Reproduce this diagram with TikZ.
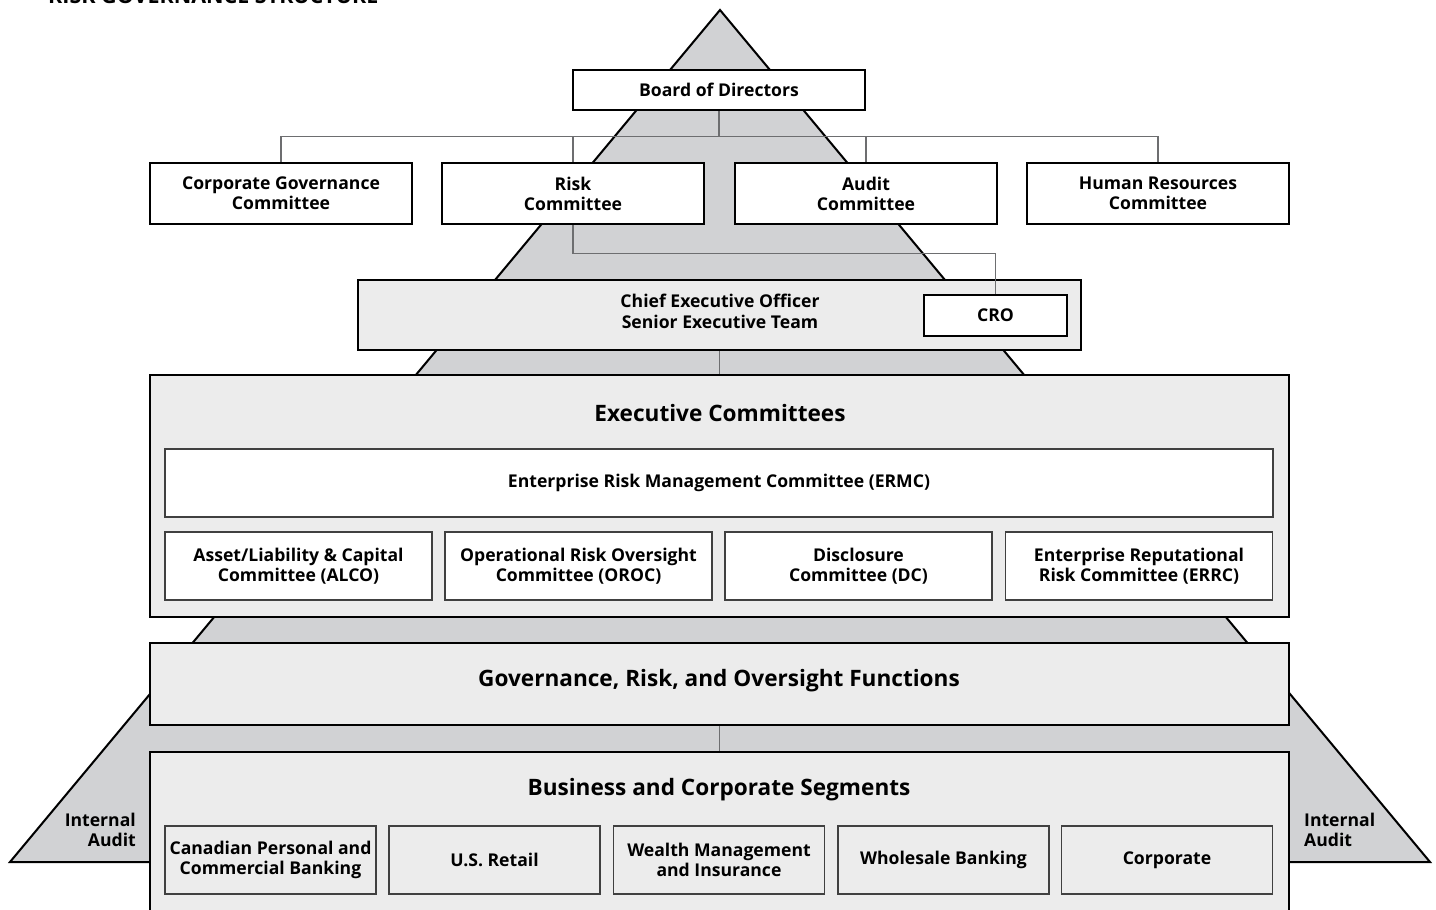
\documentclass[tikz,border=0pt]{standalone}
\usepackage{fontspec}
\setmainfont{Open Sans}
\usetikzlibrary{calc}

\definecolor{pyramidgray}{HTML}{D1D2D4}
\definecolor{panelgray}{HTML}{ECECEC}
\definecolor{linkgray}{HTML}{6D6E70}

\tikzset{
  boardbox/.style={draw, line width=2.6pt, fill=white, align=center, inner sep=0pt,
    font=\bfseries\fontsize{17.6}{20}\selectfont},
  panelbox/.style={draw, line width=2.6pt, fill=panelgray, align=center, inner sep=0pt,
    font=\bfseries\fontsize{17.6}{20}\selectfont},
  subbox/.style={draw=black!75, line width=1.3pt, fill=white, align=center, inner sep=0pt,
    font=\bfseries\fontsize{17.6}{20}\selectfont},
  heading/.style={font=\bfseries\fontsize{22.6}{24}\selectfont, inner sep=0pt},
  link/.style={draw=linkgray, line width=1.3pt},
}

\begin{document}
\begin{tikzpicture}[x=1pt,y=-1pt]
  \useasboundingbox (0,0) rectangle (1436,910);
  \clip (0,0) rectangle (1436,910);

  % title, cut off at the top
  \node[anchor=base west, inner sep=0pt, font=\bfseries\fontsize{21.5}{22}\selectfont] (title) at (48,4) {RISK GOVERNANCE STRUCTURE};

  % pyramid
  \coordinate (T) at (720,10);
  \coordinate (L) at (10,862);
  \coordinate (R) at (1430,862);
  \draw[line width=2pt, fill=pyramidgray] (T) -- (L) -- (R) -- cycle;

  % board and committees
  \node[boardbox, minimum width=292pt, minimum height=40pt] (BD) at (719,90) {Board of Directors};
  \node[boardbox, minimum width=262pt, minimum height=61pt] (CGC) at (281,193.5) {Corporate Governance\\Committee};
  \node[boardbox, minimum width=262pt, minimum height=61pt] (RC) at (573,193.5) {Risk\\Committee};
  \node[boardbox, minimum width=262pt, minimum height=61pt] (AC) at (866,193.5) {Audit\\Committee};
  \node[boardbox, minimum width=262pt, minimum height=61pt] (HRC) at (1158,193.5) {Human Resources\\Committee};

  % senior management
  \node[panelbox, minimum width=723pt, minimum height=70pt] (CEO) at (719.5,315) {};
  \node[font=\bfseries\fontsize{17.6}{21}\selectfont, align=center, inner sep=0pt] (CEOt) at (720,311) {Chief Executive Officer\\Senior Executive Team};
  \node[boardbox, minimum width=143pt, minimum height=41pt] (CRO) at (995.5,315.5) {CRO};

  % executive committees
  \node[panelbox, minimum width=1139pt, minimum height=242pt] (EC) at (719.5,496) {};
  \node[heading] (ECt) at (720,413) {Executive Committees};
  \node[subbox, minimum width=1108pt, minimum height=68pt] (ERMC) at (719,483) {Enterprise Risk Management Committee (ERMC)};
  \node[subbox, minimum width=267pt, minimum height=68pt] (ALCO) at (298.5,566) {Asset/Liability \& Capital\\Committee (ALCO)};
  \node[subbox, minimum width=267pt, minimum height=68pt] (OROC) at (578.5,566) {Operational Risk Oversight\\Committee (OROC)};
  \node[subbox, minimum width=267pt, minimum height=68pt] (DC) at (858.5,566) {Disclosure\\Committee (DC)};
  \node[subbox, minimum width=267pt, minimum height=68pt] (ERRC) at (1139,566) {Enterprise Reputational\\Risk Committee (ERRC)};

  % oversight functions
  \node[panelbox, minimum width=1139pt, minimum height=82pt] (GOV) at (719.5,684) {};
  \node[heading] (GOVt) at (719,681) {Governance, Risk, and Oversight Functions};

  % segments
  \node[panelbox, minimum width=1139pt, minimum height=178pt] (BUS) at (719.5,841) {};
  \node[heading] (BUSt) at (719,790) {Business and Corporate Segments};
  \node[subbox, fill=panelgray, minimum width=211pt, minimum height=68pt] (CPCB) at (270.5,860) {Canadian Personal and\\Commercial Banking};
  \node[subbox, fill=panelgray, minimum width=211pt, minimum height=68pt] (USR) at (494.5,860) {U.S. Retail};
  \node[subbox, fill=panelgray, minimum width=211pt, minimum height=68pt] (WMI) at (719,860) {Wealth Management\\and Insurance};
  \node[subbox, fill=panelgray, minimum width=211pt, minimum height=68pt] (WB) at (943.5,860) {Wholesale Banking};
  \node[subbox, fill=panelgray, minimum width=211pt, minimum height=68pt] (CORP) at (1167,860) {Corporate};

  % internal audit
  \node[anchor=east, align=right, inner sep=0pt, font=\bfseries\fontsize{17.6}{20}\selectfont] (IAL) at (136,830) {Internal\\Audit};
  \node[anchor=west, align=left, inner sep=0pt, font=\bfseries\fontsize{17.6}{20}\selectfont] (IAR) at (1304,830) {Internal\\Audit};

  % reporting lines
  \coordinate (J) at ($(BD.south) + (0,25)$);
  \draw[link] (BD.south) -- (J);
  \draw[link] (CGC.north) |- (J) -| (HRC.north);
  \draw[link] (J) -| (RC.north);
  \draw[link] (J) -| (AC.north);
  \draw[link] (RC.south) -- ++(0,28) -| (CRO.north);
  \draw[link] (CEO.south) -- (EC.north);
  \draw[link] (GOV.south) -- (BUS.north);
\end{tikzpicture}
\end{document}
